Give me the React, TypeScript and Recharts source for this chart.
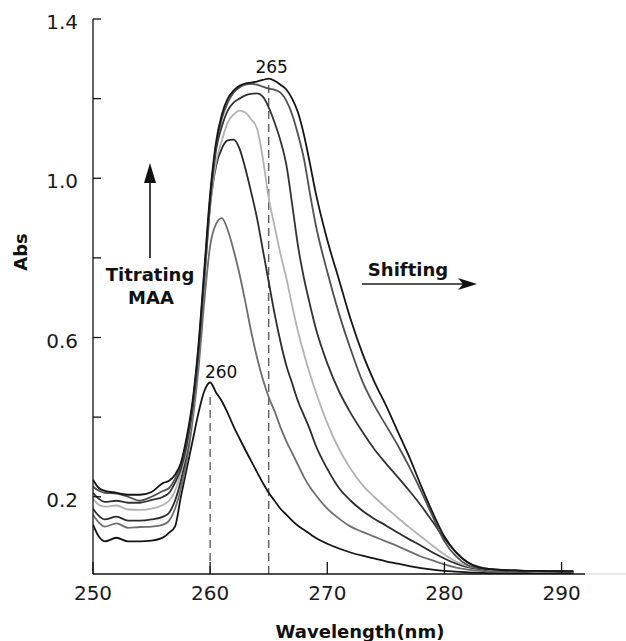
import { Line, LineChart, ReferenceLine, XAxis, YAxis } from "recharts";

// wavelength grid (nm), half steps around the band
const WAVELENGTH = [
  250, 250.5, 251,
  252, 253, 254, 255, 256,
  256.5, 257, 257.5, 258, 258.5, 259, 259.5, 260, 260.5, 261, 261.5, 262, 262.5,
  263, 263.5, 264, 264.5, 265, 265.5, 266, 266.5, 267, 267.5, 268, 268.5, 269,
  270, 271, 272, 273, 274, 275, 276, 277, 278, 279, 280, 281, 282, 283, 284, 285,
  286, 287, 288, 289, 290, 291,
];

// absorbance, from the bare spectrum (peak 260) up to the last titration (peak 265)
const ABS_1 = [
  0.13, 0.1, 0.088,
  0.097, 0.088, 0.088, 0.09, 0.098,
  0.11, 0.125, 0.2, 0.27, 0.34, 0.41, 0.465, 0.487, 0.462, 0.44, 0.41, 0.377, 0.347,
  0.318, 0.29, 0.262, 0.235, 0.21, 0.19, 0.17, 0.155, 0.14, 0.127, 0.117, 0.107, 0.097,
  0.082, 0.07, 0.06, 0.052, 0.045, 0.038, 0.032, 0.026, 0.021, 0.017, 0.014, 0.012,
  0.01, 0.009, 0.008, 0.008, 0.008, 0.008, 0.008, 0.008, 0.008, 0.008,
];
const ABS_2 = [
  0.155, 0.135, 0.125,
  0.133, 0.122, 0.124, 0.125, 0.13,
  0.14, 0.17, 0.22, 0.29, 0.39, 0.52, 0.69, 0.83, 0.885, 0.9, 0.87, 0.82, 0.76,
  0.69, 0.615, 0.55, 0.495, 0.45, 0.415, 0.375, 0.34, 0.31, 0.28, 0.25, 0.225, 0.205,
  0.17, 0.145, 0.125, 0.112, 0.1, 0.088, 0.076, 0.063, 0.05, 0.04, 0.03, 0.022,
  0.017, 0.014, 0.013, 0.012, 0.012, 0.011, 0.011, 0.011, 0.011, 0.011,
];
const ABS_3 = [
  0.17, 0.152, 0.143,
  0.15, 0.14, 0.14, 0.143, 0.15,
  0.16, 0.19, 0.24, 0.31, 0.41, 0.55, 0.74, 0.93, 1.03, 1.075, 1.095, 1.097, 1.075,
  1.025, 0.965, 0.9, 0.82, 0.74, 0.66, 0.59, 0.53, 0.485, 0.44, 0.405, 0.37, 0.33,
  0.27, 0.222, 0.19, 0.165, 0.145, 0.128, 0.11, 0.093, 0.077, 0.06, 0.045, 0.032,
  0.023, 0.018, 0.015, 0.014, 0.013, 0.012, 0.012, 0.011, 0.011, 0.011,
];
const ABS_4 = [
  0.195, 0.18, 0.175,
  0.178, 0.168, 0.167, 0.17, 0.18,
  0.19, 0.215, 0.26, 0.32, 0.41, 0.55, 0.74, 0.93, 1.04, 1.095, 1.14, 1.16, 1.17,
  1.165, 1.148, 1.125, 1.05, 0.95, 0.88, 0.81, 0.75, 0.68, 0.615, 0.56, 0.51, 0.465,
  0.385, 0.32, 0.27, 0.23, 0.2, 0.173, 0.148, 0.123, 0.1, 0.077, 0.055, 0.037,
  0.026, 0.02, 0.016, 0.015, 0.014, 0.013, 0.012, 0.012, 0.012, 0.012,
];
const ABS_5 = [
  0.21, 0.195, 0.187,
  0.19, 0.185, 0.185, 0.192, 0.2,
  0.21, 0.235, 0.27, 0.33, 0.42, 0.56, 0.75, 0.94, 1.07, 1.13, 1.17, 1.19, 1.2,
  1.208, 1.212, 1.213, 1.205, 1.178, 1.14, 1.095, 1.035, 0.935, 0.83, 0.75, 0.685, 0.625,
  0.535, 0.465, 0.41, 0.363, 0.32, 0.284, 0.25, 0.215, 0.178, 0.137, 0.095, 0.06,
  0.035, 0.023, 0.018, 0.016, 0.015, 0.014, 0.013, 0.013, 0.012, 0.012,
];
const ABS_6 = [
  0.225, 0.215, 0.21,
  0.208, 0.2, 0.19, 0.2, 0.215,
  0.222, 0.245, 0.28, 0.34, 0.43, 0.57, 0.76, 0.95, 1.08, 1.15, 1.19, 1.215, 1.228,
  1.235, 1.237, 1.235, 1.23, 1.225, 1.222, 1.215, 1.195, 1.16, 1.11, 1.05, 0.965, 0.885,
  0.765, 0.66, 0.57, 0.49, 0.43, 0.38, 0.33, 0.275, 0.215, 0.15, 0.088, 0.05,
  0.028, 0.02, 0.017, 0.016, 0.015, 0.014, 0.013, 0.013, 0.013, 0.012,
];
const ABS_7 = [
  0.243, 0.222, 0.215,
  0.21, 0.205, 0.205, 0.212, 0.235,
  0.24, 0.255, 0.285, 0.35, 0.44, 0.58, 0.77, 0.96, 1.09, 1.16, 1.2, 1.22, 1.232,
  1.238, 1.24, 1.243, 1.247, 1.25, 1.245, 1.235, 1.223, 1.2, 1.165, 1.11, 1.04, 0.965,
  0.845, 0.745, 0.645, 0.56, 0.49, 0.43, 0.365, 0.3, 0.228, 0.16, 0.1, 0.06,
  0.035, 0.022, 0.018, 0.016, 0.015, 0.014, 0.014, 0.013, 0.013, 0.013,
];

const X_TICKS = [250, 260, 270, 280, 290];
const Y_TICKS = [0.2, 0.4, 0.6, 0.8, 1.0, 1.2, 1.4];
const Y_LABELLED = [0.2, 0.6, 1.0, 1.4];
const Y_MIN = 0.006;

const CURVES = [ABS_1, ABS_2, ABS_3, ABS_4, ABS_5, ABS_6, ABS_7];
const LINE_COLORS = ["#151515", "#6e6e6e", "#2c2c2c", "#b2b2b2", "#333333", "#505050", "#161616"];

const data = WAVELENGTH.map((wl, i) => {
  const row: Record<string, number> = { wl };
  CURVES.forEach((c, k) => {
    row[`a${k + 1}`] = c[i];
  });
  return row;
});

function XTick({ x, y, payload }: any) {
  return (
    <g>
      <line x1={x} x2={x} y1={y} y2={y - 12} stroke="#111" strokeWidth={1.3} />
      <text x={x} y={y + 26} textAnchor="middle" fontSize={20} fill="#1a1a1a">
        {payload.value}
      </text>
    </g>
  );
}

function YTick({ x, y, payload }: any) {
  const show = Y_LABELLED.some((v) => Math.abs(v - payload.value) < 1e-6);
  return (
    <g>
      <line x1={x} x2={x + 8} y1={y} y2={y} stroke="#111" strokeWidth={1.3} />
      {show && (
        <text x={x - 15} y={y + 10} textAnchor="end" fontSize={20} fill="#1a1a1a">
          {Number(payload.value).toFixed(1)}
        </text>
      )}
    </g>
  );
}

function PeakTag({ viewBox, text, dx, dy }: any) {
  const x = (viewBox?.x ?? 0) + dx;
  const y = (viewBox?.y ?? 0) + dy;
  return (
    <text x={x} y={y} textAnchor="middle" fontSize={17} fill="#111">
      {text}
    </text>
  );
}

export default function App() {
  return (
    <div
      style={{
        position: "absolute",
        left: 0,
        top: 0,
        width: 626,
        height: 641,
        background: "#fff",
        fontFamily: "DejaVu Sans, sans-serif",
      }}
    >
      <LineChart
        width={626}
        height={641}
        data={data}
        margin={{ top: 19, right: 41, bottom: 17, left: 13 }}
      >
        <XAxis
          type="number"
          dataKey="wl"
          domain={[250, 292]}
          ticks={X_TICKS}
          allowDataOverflow
          height={50}
          tickLine={false}
          tickSize={0}
          tickMargin={0}
          axisLine={{ stroke: "#111", strokeWidth: 1.3 }}
          tick={(p: any) => <XTick {...p} />}
        />
        <YAxis
          type="number"
          domain={[Y_MIN, 1.4]}
          ticks={Y_TICKS}
          allowDataOverflow
          width={80}
          tickLine={false}
          tickSize={0}
          tickMargin={0}
          axisLine={{ stroke: "#111", strokeWidth: 1.3 }}
          tick={(p: any) => <YTick {...p} />}
        />
        <ReferenceLine
          segment={[
            { x: 260, y: Y_MIN },
            { x: 260, y: 0.46 },
          ]}
          stroke="#555"
          strokeWidth={1.3}
          strokeDasharray="8 5"
          label={<PeakTag text="260" dx={11} dy={-15} />}
        />
        <ReferenceLine
          segment={[
            { x: 265, y: Y_MIN },
            { x: 265, y: 1.24 },
          ]}
          stroke="#555"
          strokeWidth={1.3}
          strokeDasharray="8 5"
          label={<PeakTag text="265" dx={3} dy={-10} />}
        />
        {CURVES.map((_, k) => (
          <Line
            key={k}
            type="monotone"
            dataKey={`a${k + 1}`}
            stroke={LINE_COLORS[k]}
            strokeWidth={1.8}
            dot={false}
            activeDot={false}
            isAnimationActive={false}
          />
        ))}
      </LineChart>
      <svg
        width={626}
        height={641}
        style={{ position: "absolute", left: 0, top: 0, pointerEvents: "none" }}
      >
        <line x1={585} x2={626} y1={574} y2={574} stroke="#d0d0d0" strokeWidth={1} />
        <text
          x={20}
          y={252}
          transform="rotate(-90 20 252)"
          textAnchor="middle"
          dominantBaseline="central"
          fontSize={18}
          fontWeight="bold"
          fill="#111"
        >
          Abs
        </text>
        <text x={360} y={638} textAnchor="middle" fontSize={18} fontWeight="bold" fill="#111">
          Wavelength(nm)
        </text>
        <line x1={150} x2={150} y1={258} y2={178} stroke="#111" strokeWidth={1.6} />
        <polygon points="150,163 144,183 156,183" fill="#111" />
        <text x={150} y={281} textAnchor="middle" fontSize={18} fontWeight="bold" fill="#111">
          Titrating
        </text>
        <text x={151} y={304} textAnchor="middle" fontSize={18} fontWeight="bold" fill="#111">
          MAA
        </text>
        <text x={408} y={276} textAnchor="middle" fontSize={18} fontWeight="bold" fill="#111">
          Shifting
        </text>
        <line x1={362} x2={464} y1={284} y2={284} stroke="#555" strokeWidth={1.8} />
        <polygon points="477,284 458,278 463,284 458,290" fill="#111" />
      </svg>
    </div>
  );
}
